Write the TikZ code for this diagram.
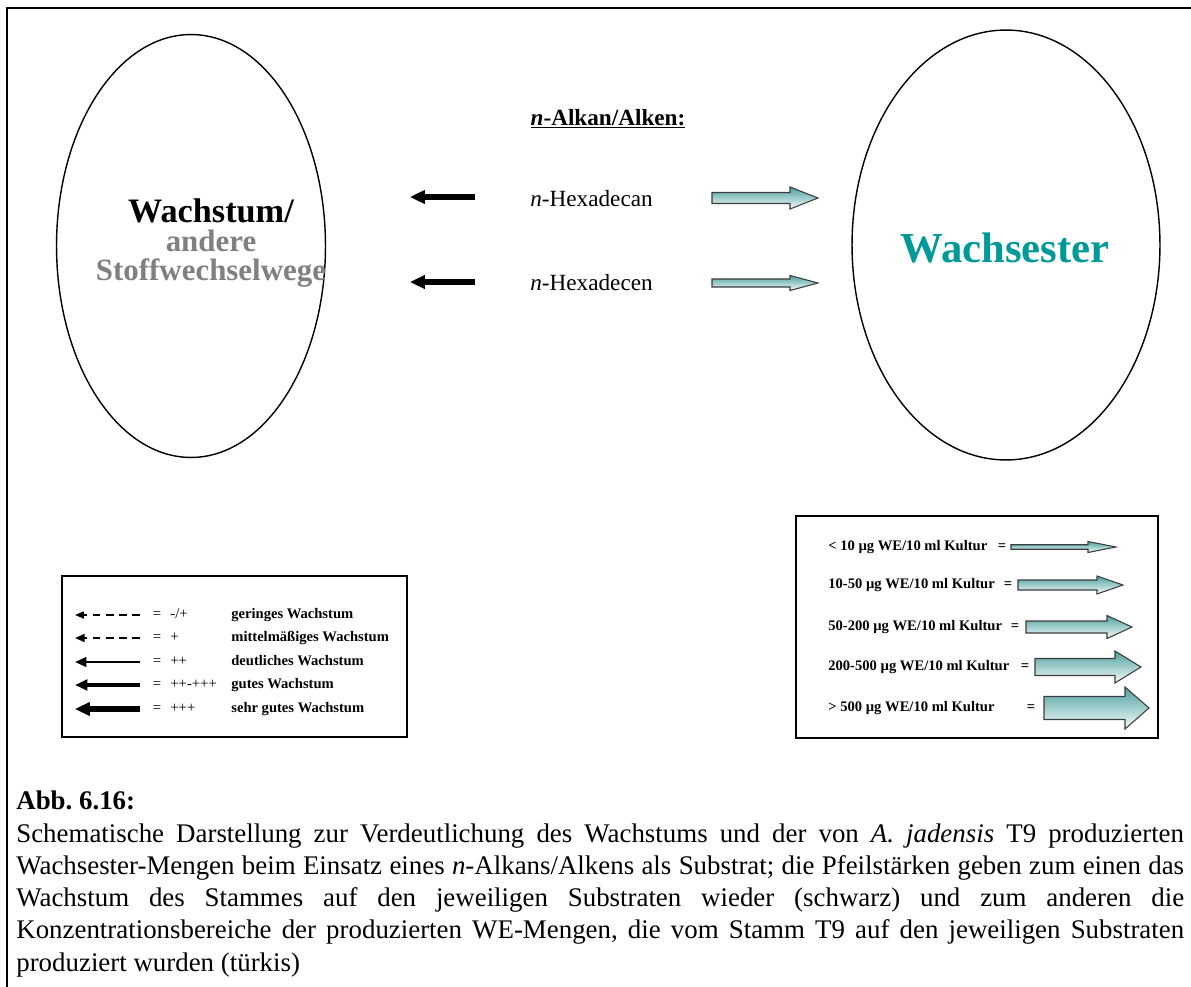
\documentclass[tikz,border=0pt]{standalone}
\usepackage{fontspec}
\setmainfont{Liberation Serif}
\usetikzlibrary{arrows.meta, shapes.geometric}

\definecolor{tuerkis}{RGB}{0,153,153}
\definecolor{grau}{RGB}{128,128,128}
\definecolor{wedunkel}{RGB}{80,160,160}
\definecolor{wehell}{RGB}{245,252,252}
\definecolor{rahmen}{RGB}{60,60,60}

\tikzset{
  rand/.style={line width=1.1pt},
  kasten/.style={line width=0.8pt},
  zelle/.style={draw, ellipse, line width=0.8pt, inner sep=0pt},
  titel/.style={font=\fontsize{19.5}{22}\selectfont\bfseries, inner sep=0pt},
  grautext/.style={font=\fontsize{17.6}{20}\selectfont\bfseries, text=grau, inner sep=0pt},
  estertext/.style={font=\fontsize{24.3}{28}\selectfont\bfseries, text=tuerkis},
  stoff/.style={font=\fontsize{13.2}{15}\selectfont, inner sep=0pt},
  wachs/.style={-{Triangle[length=8.5pt,width=7.5pt]}, line width=3.4pt},
  weform/.style={draw=rahmen, line width=0.6pt, top color=wedunkel, bottom color=wehell},
  legzeichen/.style={font=\fontsize{8.4}{10}\selectfont, inner sep=0pt},
  legtext/.style={font=\fontsize{8.3}{10}\selectfont\bfseries, anchor=base west, inner sep=0pt},
  capfont/.style={font=\fontsize{15.3}{18.4}\selectfont, inner sep=0pt}
}

\newcommand{\wepfeil}[6]{% x start, x head, x tip, y, half shaft, half head
  \path[weform] (#1,{#4-#5}) -- (#2,{#4-#5}) -- (#2,{#4-#6}) -- (#3,#4)
    -- (#2,{#4+#6}) -- (#2,{#4+#5}) -- (#1,{#4+#5}) -- cycle;}

\begin{document}
\begin{tikzpicture}[x=0.02cm, y=-0.02cm]
\useasboundingbox (0,0) rectangle (1191,987);
\draw[rand] (7,987) -- (7,8) -- (1191,8);

\node[zelle, minimum width=5.38cm, minimum height=8.46cm] (wachstum) at (191,246) {};
\node[zelle, minimum width=6.16cm, minimum height=8.6cm] (ester) at (1006,245) {};

\node[titel, anchor=base] (wachstum1) at (211,222) {Wachstum/};
\node[grautext, anchor=base] (wachstum2) at (211,251) {andere};
\node[grautext, anchor=base] (wachstum3) at (211,280) {Stoffwechselwege};
\node[estertext, anchor=base] (estertxt) at (1005,262) {Wachsester};

\node[stoff, anchor=base] (substrat) at (608,125) {\underline{\textbf{\textit{n}-Alkan/Alken:}}};
\node[stoff, anchor=base west] (hexan) at (530,206) {\textit{n}-Hexadecan};
\node[stoff, anchor=base west] (hexen) at (530,290) {\textit{n}-Hexadecen};

\coordinate (hexan-s) at (475,197);
\coordinate (hexan-g) at (410,197);
\coordinate (hexen-s) at (475,282);
\coordinate (hexen-g) at (410,282);
\draw[wachs] (hexan-s) -- (hexan-g);
\draw[wachs] (hexen-s) -- (hexen-g);

\wepfeil{712}{790}{818}{198}{5.5}{11}
\wepfeil{712}{790}{818}{283}{4}{7.5}

% Legende Wachstum
\draw[kasten] (62,576) rectangle (407,737);
\draw[-{Triangle[length=5pt,width=4pt]}, line width=0.75pt, dash pattern=on 4.5pt off 3pt] (140,615) -- (75,615);
\draw[-{Triangle[length=5.5pt,width=4.5pt]}, line width=1.1pt, dash pattern=on 4.5pt off 3pt] (140,638) -- (75,638);
\draw[-{Triangle[length=6.5pt,width=5.5pt]}, line width=1.3pt] (140,662) -- (75,662);
\draw[-{Triangle[length=7pt,width=6pt]}, line width=1.9pt] (140,685) -- (75,685);
\draw[-{Triangle[length=8.5pt,width=7.5pt]}, line width=3pt] (140,709) -- (75,709);

\node[legzeichen, anchor=base] (gl1) at (157,618) {=};
\node[legzeichen, anchor=base] (gl2) at (157,641) {=};
\node[legzeichen, anchor=base] (gl3) at (157,665) {=};
\node[legzeichen, anchor=base] (gl4) at (157,688) {=};
\node[legzeichen, anchor=base] (gl5) at (157,712) {=};
\node[legzeichen, anchor=base west] (wert1) at (170,618) {-/+};
\node[legzeichen, anchor=base west] (wert2) at (170,641) {+};
\node[legzeichen, anchor=base west] (wert3) at (170,665) {++};
\node[legzeichen, anchor=base west] (wert4) at (170,688) {++-+++};
\node[legzeichen, anchor=base west] (wert5) at (170,712) {+++};
\node[legtext] (wachs1) at (231,618) {geringes Wachstum};
\node[legtext] (wachs2) at (231,641) {mittelmäßiges Wachstum};
\node[legtext] (wachs3) at (231,665) {deutliches Wachstum};
\node[legtext] (wachs4) at (231,688) {gutes Wachstum};
\node[legtext] (wachs5) at (231,712) {sehr gutes Wachstum};

% Legende Wachsester
\draw[kasten] (796,516) rectangle (1158,738);
\node[legtext] (we1) at (828,550) {< 10 µg WE/10 ml Kultur};
\node[legtext] (we2) at (828,588) {10-50 µg WE/10 ml Kultur};
\node[legtext] (we3) at (828,630) {50-200 µg WE/10 ml Kultur};
\node[legtext] (we4) at (828,670) {200-500 µg WE/10 ml Kultur};
\node[legtext] (we5) at (828,711) {> 500 µg WE/10 ml Kultur};
\node[legtext, anchor=base] (wegl1) at (1002,550) {=};
\node[legtext, anchor=base] (wegl2) at (1008,588) {=};
\node[legtext, anchor=base] (wegl3) at (1015,630) {=};
\node[legtext, anchor=base] (wegl4) at (1025,670) {=};
\node[legtext, anchor=base] (wegl5) at (1031,711) {=};
\wepfeil{1011}{1088}{1116}{547}{2.25}{5.5}
\wepfeil{1018}{1097}{1123}{585}{5}{9}
\wepfeil{1026}{1107}{1132}{627}{6}{11.5}
\wepfeil{1035}{1115}{1141}{667}{8.5}{16}
\wepfeil{1044}{1125}{1149}{708}{11.5}{21}

\node[capfont, font=\fontsize{15.3}{18.4}\selectfont\bfseries, anchor=base west] (abb) at (16,809) {\frenchspacing Abb. 6.16:};
\node[capfont, anchor=north west, text width=23.36cm, align=justify] (legende) at (16,823)
  {\frenchspacing\hyphenpenalty=10000\exhyphenpenalty=10000\tolerance=10000
  Schematische Darstellung zur Verdeutlichung des Wachstums und der von \textit{A. jadensis} T9 produzierten\linebreak
  Wachsester-Mengen beim Einsatz eines \textit{n}-Alkans/Alkens als Substrat; die Pfeilstärken geben zum einen das\linebreak
  Wachstum des Stammes auf den jeweiligen Substraten wieder (schwarz) und zum anderen die\linebreak
  Konzentrationsbereiche der produzierten WE-Mengen, die vom Stamm T9 auf den jeweiligen Substraten\linebreak
  produziert wurden (türkis)};
\end{tikzpicture}
\end{document}
